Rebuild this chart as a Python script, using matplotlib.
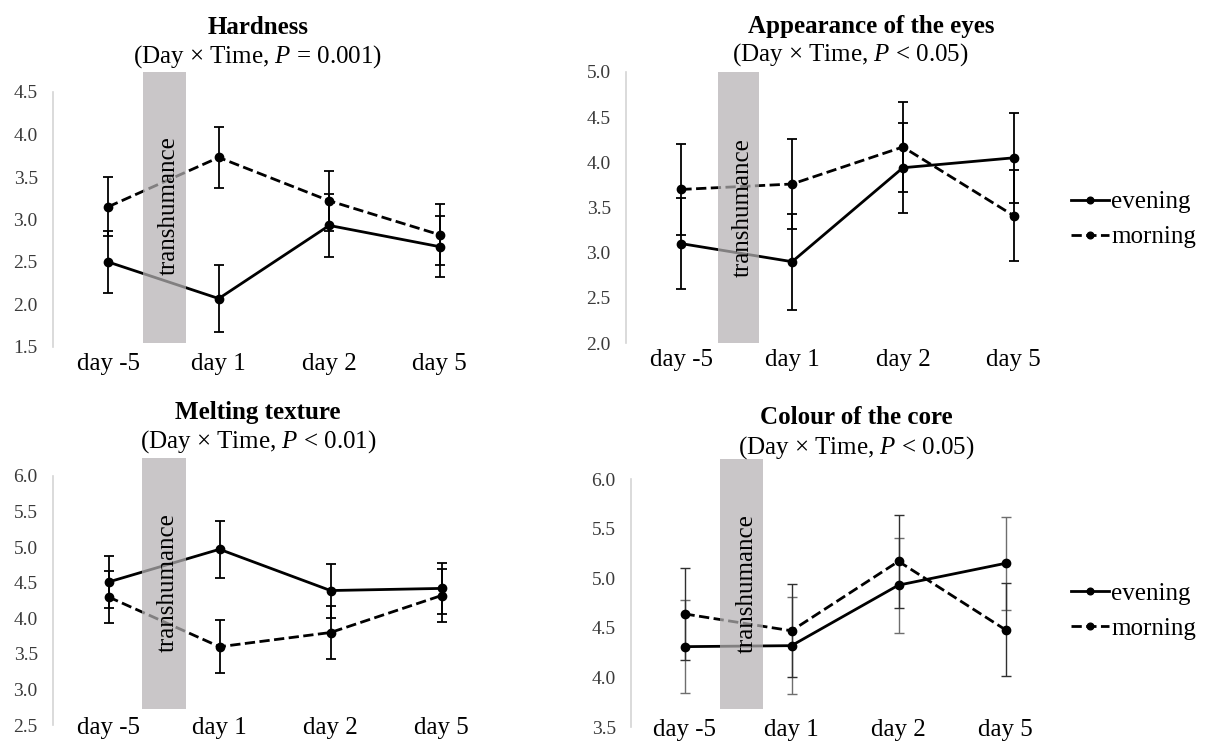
import matplotlib
matplotlib.use("Agg")
from matplotlib import pyplot as plt
from matplotlib.patches import Rectangle

plt.rcParams['font.family'] = ['Liberation Serif', 'DejaVu Serif']
plt.rcParams['mathtext.fontset'] = 'custom'
plt.rcParams['mathtext.rm'] = 'Liberation Serif'
plt.rcParams['mathtext.it'] = 'Liberation Serif:italic'

# Data
days = ["day -5", "day 1", "day 2", "day 5"]
series = ["evening", "morning"]

hardness_evening = [2.50, 2.07, 2.93, 2.68]
hardness_evening_err = [0.36, 0.39, 0.37, 0.36]
hardness_morning = [3.15, 3.73, 3.22, 2.82]
hardness_morning_err = [0.35, 0.36, 0.35, 0.36]

eyes_evening = [3.10, 2.90, 3.94, 4.05]
eyes_evening_err = [0.50, 0.53, 0.50, 0.50]
eyes_morning = [3.70, 3.76, 4.17, 3.41]
eyes_morning_err = [0.50, 0.50, 0.50, 0.50]

melting_evening = [4.51, 4.97, 4.39, 4.42]
melting_evening_err = [0.37, 0.40, 0.38, 0.36]
melting_morning = [4.30, 3.60, 3.80, 4.32]
melting_morning_err = [0.36, 0.37, 0.37, 0.37]

core_evening = [4.31, 4.32, 4.93, 5.15]
core_evening_err = [0.47, 0.49, 0.48, 0.47]
core_morning = [4.64, 4.47, 5.17, 4.48]
core_morning_err = [0.46, 0.47, 0.47, 0.47]

titles = ["Hardness", "Appearance of the eyes", "Melting texture", "Colour of the core"]
subtitles = ["(Day \u00d7 Time, $P$ = 0.001)", "(Day \u00d7 Time, $P$ < 0.05)",
             "(Day \u00d7 Time, $P$ < 0.01)", "(Day \u00d7 Time, $P$ < 0.05)"]
y_ticks = [[1.5, 2.0, 2.5, 3.0, 3.5, 4.0, 4.5],
           [2.0, 2.5, 3.0, 3.5, 4.0, 4.5, 5.0],
           [2.5, 3.0, 3.5, 4.0, 4.5, 5.0, 5.5, 6.0],
           [3.5, 4.0, 4.5, 5.0, 5.5, 6.0]]
band_label = "transhumance"

W, H = 1206, 743
fig = plt.figure(figsize=(W / 100, H / 100), dpi=100)


def px_axes(left, top, right, bottom):
    return fig.add_axes([left / W, 1 - bottom / H, (right - left) / W, (bottom - top) / H])


# layout in pixels: axes box, band (x data, y data), title centres, legend
layout = [
    dict(box=(53, 92, 495, 347), band=(0.31, 0.70, 1.55, 4.74), text_xy=(0.55, 3.16),
         tx=258, sx=258, ty=27, sy=57, xpad=4, err=("black", "black"), elw=1.3, legend=None),
    dict(box=(626, 72, 1069, 343), band=(0.33, 0.70, 2.0, 5.0), text_xy=(0.55, 3.5),
         tx=871, sx=850, ty=27, sy=55, xpad=4, err=("black", "black"), elw=1.3,
         legend=(1071, 219.5)),
    dict(box=(53, 476, 497, 725), band=(0.30, 0.70, 2.72, 6.26), text_xy=(0.53, 4.5),
         tx=258, sx=258, ty=413, sy=442, xpad=-6, err=("black", "black"), elw=1.3,
         legend=None),
    dict(box=(631, 479, 1059, 727), band=(0.33, 0.73, 3.68, 6.2), text_xy=(0.58, 4.95),
         tx=856, sx=856, ty=417, sy=448, xpad=-6, err=("#6e6e6e", "#303030"), elw=1.0,
         legend=(1071, 611)),
]

data = [
    (hardness_evening, hardness_evening_err, hardness_morning, hardness_morning_err),
    (eyes_evening, eyes_evening_err, eyes_morning, eyes_morning_err),
    (melting_evening, melting_evening_err, melting_morning, melting_morning_err),
    (core_evening, core_evening_err, core_morning, core_morning_err),
]

x = list(range(len(days)))
for i, lay in enumerate(layout):
    ax = px_axes(*lay["box"])
    ev, ev_err, mo, mo_err = data[i]
    ax.errorbar(x, ev, yerr=ev_err, color="black", lw=2.0, marker="o", ms=6,
                ecolor=lay["err"][0], elinewidth=lay["elw"], capsize=3.5, capthick=lay["elw"],
                label=series[0], zorder=3)
    ax.errorbar(x, mo, yerr=mo_err, color="black", lw=2.0, ls="--", marker="o", ms=6,
                ecolor=lay["err"][1], elinewidth=lay["elw"], capsize=3.5, capthick=lay["elw"],
                label=series[1], zorder=3)
    x0, x1, y0, y1 = lay["band"]
    ax.add_patch(Rectangle((x0, y0), x1 - x0, y1 - y0, facecolor="#b4b1b3", alpha=0.72,
                           edgecolor="none", zorder=4, clip_on=False))
    ax.text(lay["text_xy"][0], lay["text_xy"][1], band_label, rotation=90, fontsize=18,
            ha="center", va="center", zorder=5)
    ax.set_xlim(-0.5, 3.5)
    ax.set_ylim(y_ticks[i][0], y_ticks[i][-1])
    ax.set_xticks(x)
    ax.set_xticklabels(days, fontsize=18)
    ax.set_yticks(y_ticks[i])
    ax.set_yticklabels([f"{v:.1f}" for v in y_ticks[i]], fontsize=14, color="#3a3a3a")
    ax.tick_params(axis="both", length=0)
    ax.tick_params(axis="y", pad=11)
    ax.tick_params(axis="x", pad=lay["xpad"])
    for s in ["top", "right", "bottom"]:
        ax.spines[s].set_visible(False)
    ax.spines["left"].set_color("#d4d4d4")
    ax.spines["left"].set_linewidth(1.2)
    fig.text(lay["tx"] / W, 1 - lay["ty"] / H, titles[i], fontsize=18, fontweight="bold",
             ha="center", va="center")
    fig.text(lay["sx"] / W, 1 - lay["sy"] / H, subtitles[i], fontsize=18,
             ha="center", va="center")
    if lay["legend"] is not None:
        handles, labels = ax.get_legend_handles_labels()
        handles = [h[0] for h in handles]
        fig.legend(handles, labels, loc="center left",
                   bbox_to_anchor=(lay["legend"][0] / W, 1 - lay["legend"][1] / H),
                   frameon=False, fontsize=18, handlelength=1.5, handletextpad=0.1,
                   labelspacing=0.5, borderpad=0, borderaxespad=0, markerscale=0.8)

fig.savefig("out.png", dpi=100)
